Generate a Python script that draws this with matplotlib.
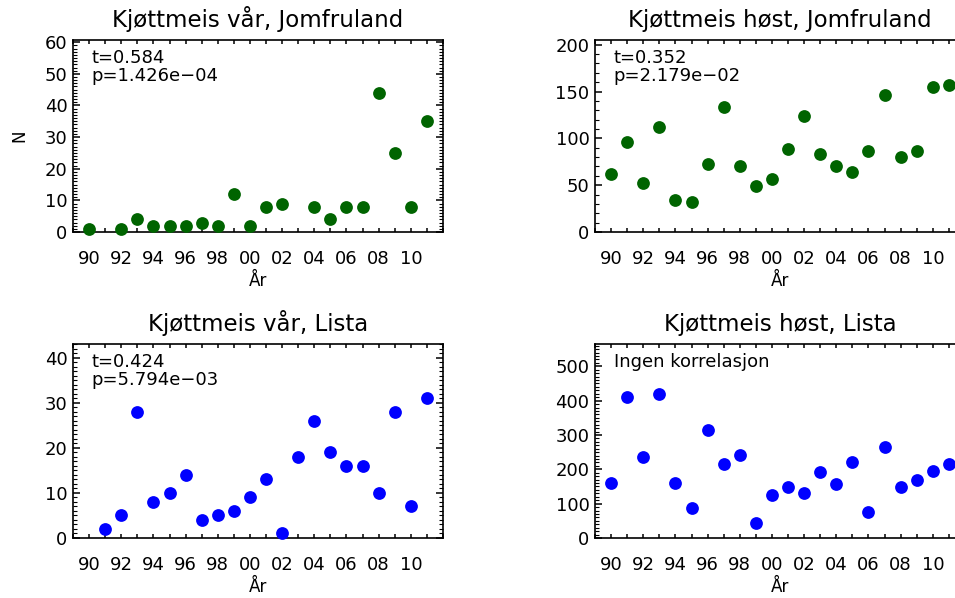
import matplotlib
matplotlib.use("Agg")
import matplotlib.pyplot as plt
from matplotlib.ticker import MultipleLocator

# Kjøttmeis ringmerket per år (antall individer)
years_jf_var = [1990, 1992, 1993, 1994, 1995, 1996, 1997, 1998, 1999, 2000,
                2001, 2002, 2004, 2005, 2006, 2007, 2008, 2009, 2010, 2011]
n_jf_var = [1, 1, 4, 2, 2, 2, 3, 2, 12, 2,
            8, 9, 8, 4, 8, 8, 44, 25, 8, 35]

years_jf_host = list(range(1990, 2012))
n_jf_host = [62, 96, 52, 112, 34, 32, 73, 133, 71, 49, 57,
             89, 124, 83, 71, 64, 87, 146, 80, 87, 155, 157]

years_li_var = list(range(1991, 2012))
n_li_var = [2, 5, 28, 8, 10, 14, 4, 5, 6, 9,
            13, 1, 18, 26, 19, 16, 16, 10, 28, 7, 31]

years_li_host = list(range(1990, 2012))
n_li_host = [160, 410, 235, 420, 160, 87, 315, 215, 242, 45, 126,
             149, 131, 192, 158, 222, 76, 265, 149, 169, 195, 215]

titles = ["Kjøttmeis vår, Jomfruland", "Kjøttmeis høst, Jomfruland",
          "Kjøttmeis vår, Lista", "Kjøttmeis høst, Lista"]
stats_text = ["t=0.584\np=1.426e\u221204", "t=0.352\np=2.179e\u221202",
              "t=0.424\np=5.794e\u221203", "Ingen korrelasjon"]

year_ticks = list(range(1989, 2013))
year_labels = [f"{y % 100:02d}" if (y % 2 == 0 and 1990 <= y <= 2010) else "" for y in year_ticks]

GREEN = "#006400"
BLUE = "#0000ff"

plt.rcParams["font.family"] = "DejaVu Sans"

fig = plt.figure(figsize=(9.55, 5.98), dpi=100)

# panel positions in figure fraction; right column runs past the edge
w = 370 / 955
positions = [
    (73 / 955, 1 - 232 / 598, w, 192 / 598),
    (595 / 955, 1 - 232 / 598, w, 192 / 598),
    (73 / 955, 1 - 538 / 598, w, 194 / 598),
    (595 / 955, 1 - 538 / 598, w, 194 / 598),
]
panels = [
    (years_jf_var, n_jf_var, GREEN, (0, 60.7), 10, 1),
    (years_jf_host, n_jf_host, GREEN, (0, 205), 50, 10),
    (years_li_var, n_li_var, BLUE, (0, 43.1), 10, 1),
    (years_li_host, n_li_host, BLUE, (0, 565), 100, 10),
]

for i, (pos, (xs, ys, col, ylim, major, minor)) in enumerate(zip(positions, panels)):
    ax = fig.add_axes(pos)
    ax.plot(xs, ys, "o", color=col, markersize=9.2, markeredgewidth=0, clip_on=False, zorder=3)
    ax.set_xlim(1989, 2012)
    ax.set_ylim(*ylim)

    ax.set_xticks(year_ticks)
    ax.set_xticklabels(year_labels)
    ax.yaxis.set_major_locator(MultipleLocator(major))
    ax.yaxis.set_minor_locator(MultipleLocator(minor))

    ax.tick_params(axis="x", which="major", direction="in", length=3, width=1.1,
                   top=True, labelsize=13, pad=13)
    ax.tick_params(axis="y", which="major", direction="in", length=5.3, width=1.1,
                   right=True, labelsize=13, pad=4)
    ax.tick_params(axis="y", which="minor", direction="in", length=2.7, width=0.8,
                   right=True)
    for sp in ax.spines.values():
        sp.set_linewidth(1.2)

    ax.set_title(titles[i], fontsize=16.5, pad=9)
    ax.set_xlabel("År", fontsize=12, labelpad=3)
    if i == 0:
        ax.set_ylabel("N", fontsize=12, labelpad=12)

    ax.text(0.05, 0.955, stats_text[i], transform=ax.transAxes, ha="left", va="top",
            fontsize=13, linespacing=1.0)

fig.savefig("out.png", dpi=100)
